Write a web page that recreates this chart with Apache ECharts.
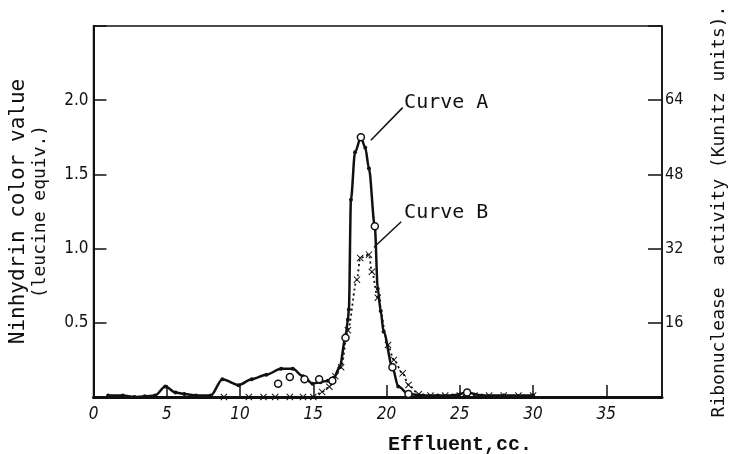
<!DOCTYPE html>
<html>
<head>
<meta charset="utf-8">
<script src="https://cdn.jsdelivr.net/npm/echarts@6/dist/echarts.min.js"></script>
<style>
  html, body { margin: 0; padding: 0; background: #fff; }
  #chart { width: 737px; height: 454px; }
</style>
</head>
<body>
<div id="chart"></div>
<script>
// Curve A: ninhydrin colour value (leucine equiv.), left axis
const curveAX = [1, 2, 2.8, 3.5, 4.2, 4.9, 5.6, 6.2, 7, 8, 8.8, 9.9, 10.8, 11.8, 12.8, 13.6, 14.3, 14.95, 15.5, 16.0, 16.4, 16.8, 17.2, 17.36, 17.43, 17.57, 17.85, 18.25, 18.55, 18.8, 19.2, 19.4, 19.6, 19.8, 20.4, 20.8, 21.5, 22.5, 23.5, 24.5, 25.5, 26.5, 28, 30]
const curveAY = [0.01, 0.01, 0.0, 0.005, 0.01, 0.07, 0.03, 0.02, 0.01, 0.01, 0.12, 0.08, 0.12, 0.15, 0.19, 0.19, 0.14, 0.09, 0.1, 0.11, 0.13, 0.2, 0.4, 0.52, 0.59, 1.33, 1.65, 1.75, 1.68, 1.54, 1.15, 0.73, 0.58, 0.44, 0.2, 0.07, 0.02, 0.01, 0.01, 0.01, 0.03, 0.01, 0.01, 0.01]
// open circles (other ninhydrin readings)
const openX = [12.6, 13.4, 14.4, 15.4, 16.3, 17.2, 18.25, 19.2, 20.4, 21.5, 25.5]
const openY = [0.09, 0.135, 0.12, 0.12, 0.11, 0.4, 1.75, 1.15, 0.2, 0.02, 0.03]
// Curve B: ribonuclease activity (Kunitz units), right axis
const curveBX = [8.9, 10.6, 11.6, 12.4, 13.4, 14.3, 15.0, 15.6, 16.1, 16.5, 16.9, 17.36, 17.98, 18.2, 18.8, 19.0, 19.4, 20.1, 20.5, 21.1, 21.5, 22.2, 23, 24, 25, 26, 27, 28, 29, 30]
const curveBY = [0, 0, 0, 0, 0, 0, 0, 1.1, 2.2, 4.5, 6.4, 14.4, 25.3, 30, 30.7, 27, 21.4, 11.2, 8, 5.1, 2.6, 0.6, 0.3, 0.3, 0.3, 0.3, 0.3, 0.3, 0.3, 0.3]
const xTicks = [0, 5, 10, 15, 20, 25, 30, 35]
const leftTicks = [0.5, 1.0, 1.5, 2.0]
const rightTicks = [16, 32, 48, 64]

const ink = '#111'
const cross = 'path://M0,1L1,0L5,4L9,0L10,1L6,5L10,9L9,10L5,6L1,10L0,9L4,5Z'
const pairs = (xs, ys) => xs.map((x, i) => [x, ys[i]])

let chart = echarts.init(document.getElementById('chart'))
chart.setOption({
  animation: false,
  backgroundColor: '#fff',
  title: {
    text: 'Effluent,cc.',
    left: 383,
    top: 430,
    textStyle: { fontFamily: 'Liberation Mono', fontSize: 20, fontWeight: 'bold', color: ink }
  },
  grid: {
    left: 93, right: 75, top: 26, bottom: 57,
    show: true, borderColor: ink, borderWidth: 1.5
  },
  xAxis: {
    type: 'value', min: 0, max: 38.8, interval: 5,
    splitLine: { show: false },
    axisLine: { lineStyle: { color: ink, width: 3 } },
    axisTick: { inside: true, length: 12, lineStyle: { color: ink, width: 1.5 } },
    axisLabel: {
      margin: 9, color: ink, fontFamily: 'DejaVu Sans Condensed', fontStyle: 'italic', fontSize: 17,
      showMaxLabel: false,
      formatter: v => xTicks.includes(v) ? String(v) : ''
    }
  },
  yAxis: [
    {
      type: 'value', min: 0, max: 2.5, interval: 0.5,
      name: '{a|Ninhydrin color value}\n{b|(leucine equiv.)}',
      nameLocation: 'middle', nameGap: 42, nameRotate: 90,
      nameTextStyle: {
        color: ink,
        rich: {
          a: { fontFamily: 'DejaVu Sans Mono', fontSize: 21, color: ink, lineHeight: 22 },
          b: { fontFamily: 'DejaVu Sans Mono', fontSize: 18, color: ink, lineHeight: 22 }
        }
      },
      splitLine: { show: false },
      axisLine: { show: true, lineStyle: { color: ink, width: 2 } },
      axisTick: { inside: true, length: 13, lineStyle: { color: ink, width: 1.5 } },
      axisLabel: {
        margin: 5, color: ink, fontFamily: 'DejaVu Sans Condensed', fontSize: 17,
        formatter: v => leftTicks.some(t => Math.abs(t - v) < 1e-6) ? v.toFixed(1) : ''
      }
    },
    {
      type: 'value', min: 0, max: 80, interval: 16, position: 'right',
      name: 'Ribonuclease  activity (Kunitz units).',
      nameLocation: 'middle', nameGap: 48, nameRotate: 90,
      nameTextStyle: { fontFamily: 'DejaVu Sans Mono', fontSize: 18, color: ink },
      splitLine: { show: false },
      axisLine: { show: true, lineStyle: { color: ink, width: 1.5 } },
      axisTick: { inside: true, length: 14, lineStyle: { color: ink, width: 1.5 } },
      axisLabel: {
        margin: 3, color: ink, fontFamily: 'DejaVu Sans Condensed', fontSize: 16,
        formatter: v => rightTicks.includes(v) ? String(v) : ''
      }
    }
  ],
  series: [
    {
      name: 'Curve A',
      type: 'line',
      yAxisIndex: 0,
      data: pairs(curveAX, curveAY),
      smooth: 0.3,
      smoothMonotone: 'x',
      symbol: 'circle',
      symbolSize: 4,
      itemStyle: { color: ink },
      lineStyle: { color: ink, width: 2.5 },
      z: 3,
      markLine: {
        silent: true, symbol: ['none', 'none'], label: { show: false },
        lineStyle: { color: ink, width: 1.5, type: 'solid' },
        data: [[{ coord: [18.93, 1.73] }, { coord: [21.1, 1.95] }]]
      },
      markPoint: {
        silent: true, symbol: 'circle', symbolSize: 0,
        label: {
          show: true, position: 'right', distance: 0, color: ink,
          fontFamily: 'DejaVu Sans Mono', fontSize: 20, formatter: '{b}'
        },
        data: [{ name: 'Curve A', coord: [21.2, 1.98] }]
      }
    },
    {
      name: 'open',
      type: 'scatter',
      yAxisIndex: 0,
      data: pairs(openX, openY),
      symbol: 'circle',
      symbolSize: 7,
      itemStyle: { color: '#fff', borderColor: ink, borderWidth: 1.5, opacity: 1 },
      z: 4
    },
    {
      name: 'Curve B',
      type: 'line',
      yAxisIndex: 1,
      data: pairs(curveBX, curveBY),
      smooth: 0.3,
      smoothMonotone: 'x',
      symbol: cross,
      symbolSize: 7,
      itemStyle: { color: ink },
      lineStyle: { color: ink, width: 1.8, type: [2, 3] },
      z: 2,
      markLine: {
        silent: true, symbol: ['none', 'none'], label: { show: false },
        lineStyle: { color: ink, width: 1.5, type: 'solid' },
        data: [[{ coord: [19.14, 32.3] }, { coord: [21.0, 37.8] }]]
      },
      markPoint: {
        silent: true, symbol: 'circle', symbolSize: 0,
        label: {
          show: true, position: 'right', distance: 0, color: ink,
          fontFamily: 'DejaVu Sans Mono', fontSize: 20, formatter: '{b}'
        },
        data: [{ name: 'Curve B', coord: [21.2, 39.7] }]
      }
    }
  ]
})
</script>
</body>
</html>
